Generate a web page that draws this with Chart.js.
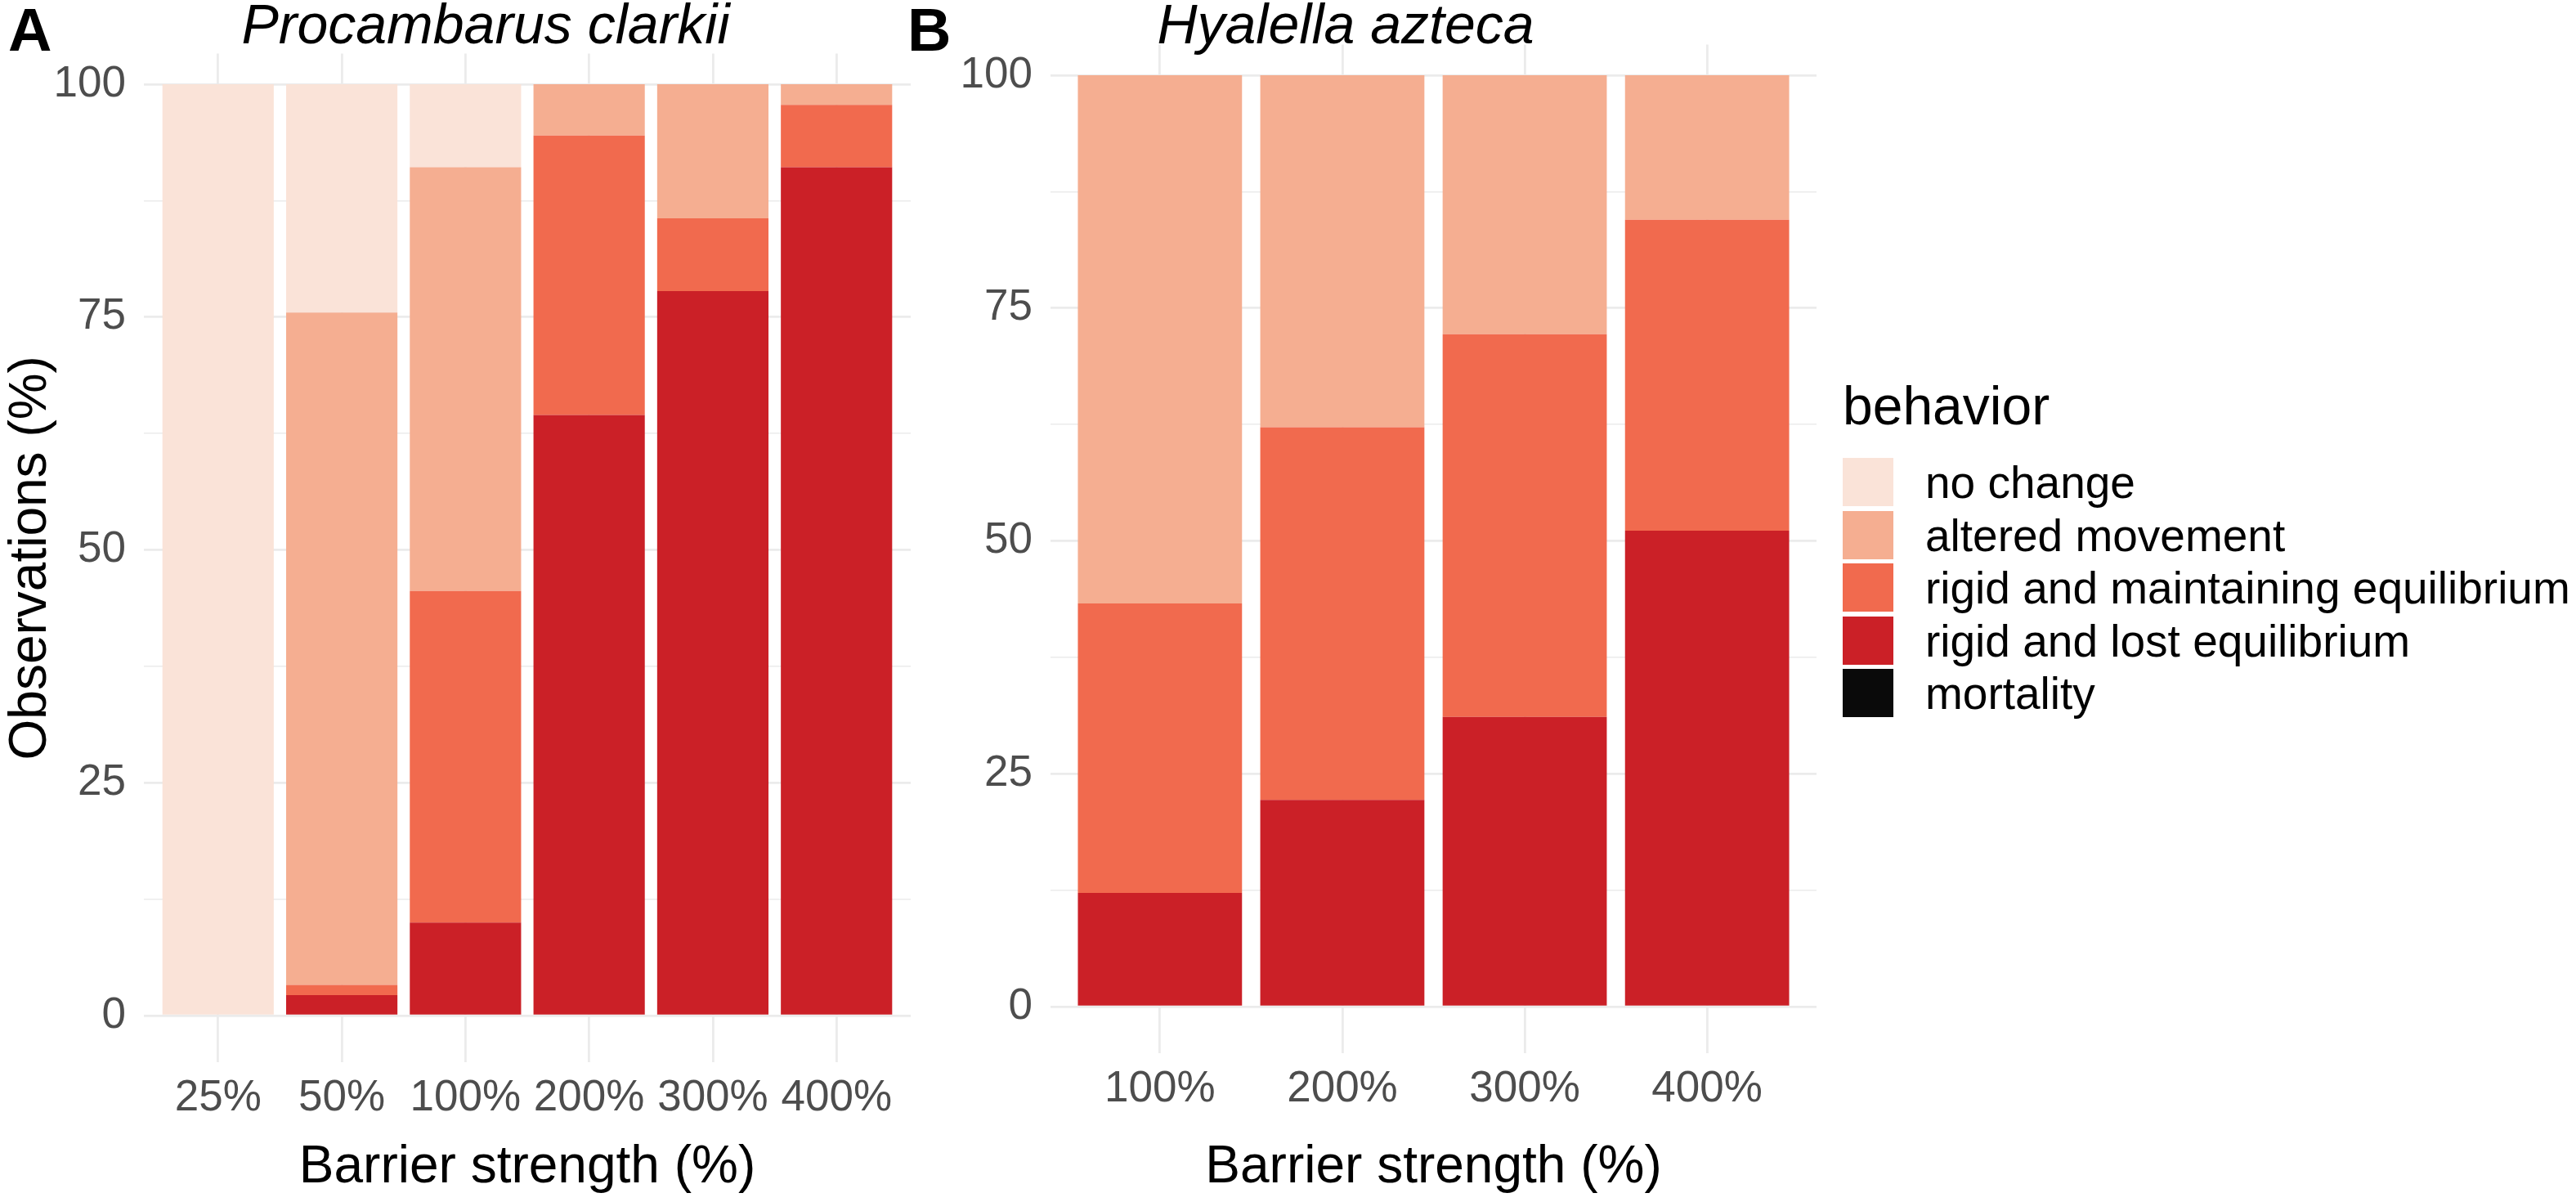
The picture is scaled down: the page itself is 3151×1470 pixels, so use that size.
<!DOCTYPE html>
<html>
<head>
<meta charset="utf-8">
<title>Behavior by barrier strength</title>
<script src="https://cdn.jsdelivr.net/npm/chart.js@4.4.1/dist/chart.umd.min.js"></script>
<style>
  body { margin: 0; background: #fff; font-family: "Liberation Sans", Arial, sans-serif; }
  #wrap { position: relative; width: 3151px; height: 1470px; overflow: hidden; background: #fff; }
  canvas { position: absolute; top: 0; }
  .tag { position: absolute; top: 0; font-weight: bold; font-size: 74px; line-height: 74px; }
  .title { position: absolute; top: -5px; width: 800px; text-align: center; font-style: italic; font-size: 68px; line-height: 68px; }
  .lg-title { position: absolute; left: 2254px; top: 463px; font-size: 66px; line-height: 66px; }
  .lg-key { position: absolute; left: 2254px; width: 62px; height: 59px; }
  .lg-text { position: absolute; left: 2355px; font-size: 55px; line-height: 55px; white-space: nowrap; }
</style>
</head>
<body>
<div id="wrap">
  <canvas id="chartA" width="1120" height="1470" style="left:0px"></canvas>
  <canvas id="chartB" width="1158" height="1470" style="left:1070px"></canvas>
  <div class="tag" style="left:10px">A</div>
  <div class="tag" style="left:1110px">B</div>
  <div class="title" style="left:194px">Procambarus clarkii</div>
  <div class="title" style="left:1246px">Hyalella azteca</div>
  <div id="legend"></div>
</div>
<script>
const behaviors = ['no change', 'altered movement', 'rigid and maintaining equilibrium', 'rigid and lost equilibrium', 'mortality']
const fills = ['#FAE3D8', '#F5AE91', '#F16A4E', '#CB2027', '#0A0A0A']

// Procambarus clarkii
const strengthA = ['25%', '50%', '100%', '200%', '300%', '400%']
const noChangeA = [100, 24.5, 8.9, 0, 0, 0]
const alteredA = [0, 72.2, 45.5, 5.5, 14.4, 2.2]
const maintainA = [0, 1.1, 35.6, 30.0, 7.8, 6.7]
const lostA = [0, 2.2, 10.0, 64.5, 77.8, 91.1]
const mortalityA = [0, 0, 0, 0, 0, 0]

// Hyalella azteca
const strengthB = ['100%', '200%', '300%', '400%']
const noChangeB = [0, 0, 0, 0]
const alteredB = [56.7, 37.8, 27.8, 15.5]
const maintainB = [31.1, 40.0, 41.1, 33.4]
const lostB = [12.2, 22.2, 31.1, 51.1]
const mortalityB = [0, 0, 0, 0]

const yTicks = [0, 12.5, 25, 37.5, 50, 62.5, 75, 87.5, 100]

const gridColor = '#EBEBEB'
const tickColor = '#4D4D4D'
Chart.defaults.font.family = '"Liberation Sans", Arial, sans-serif'

function makePanel(id, cats, series, o) {
  // first dataset sits at the bottom of the stack, so reverse the legend order
  const datasets = series.map((vals, k) => ({
    label: behaviors[k],
    data: vals.map((v, i) => ({ x: i, y: v })),
    backgroundColor: fills[k],
    borderWidth: 0,
    barPercentage: 0.9,
    categoryPercentage: 1
  })).reverse()

  return new Chart(document.getElementById(id), {
    type: 'bar',
    data: { datasets },
    options: {
      responsive: false,
      animation: false,
      devicePixelRatio: 1,
      events: [],
      layout: { padding: { top: o.top, right: 6, left: 0, bottom: 0 } },
      plugins: { legend: { display: false }, tooltip: { enabled: false } },
      scales: {
        x: {
          type: 'linear',
          stacked: true,
          offset: false,
          min: -0.6,
          max: cats.length - 0.4,
          afterBuildTicks: (ax) => { ax.ticks = cats.map((c, i) => ({ value: i })) },
          afterFit: (ax) => { ax.height = o.xHeight },
          grid: { color: gridColor, lineWidth: 2.8, drawTicks: false, offset: false },
          border: { display: false },
          ticks: {
            callback: (v) => cats[v],
            color: tickColor,
            font: { size: 53 },
            padding: 13,
            maxRotation: 0,
            autoSkip: false
          },
          title: {
            display: true,
            text: 'Barrier strength (%)',
            color: '#000',
            font: { size: 64 },
            padding: { top: 0, bottom: 3 }
          }
        },
        y: {
          stacked: true,
          min: -5,
          max: 103.3,
          afterBuildTicks: (ax) => { ax.ticks = yTicks.map((v) => ({ value: v })) },
          afterFit: (ax) => { ax.width = o.yWidth },
          grid: {
            color: gridColor,
            lineWidth: (c) => (c.tick && c.tick.value % 25 === 0 ? 2.8 : 1.4),
            drawTicks: false
          },
          border: { display: false },
          ticks: {
            callback: (v) => (v % 25 === 0 ? String(v) : ''),
            color: tickColor,
            font: { size: 53 },
            padding: 22
          },
          title: {
            display: o.yTitle,
            text: 'Observations (%)',
            color: '#000',
            font: { size: 64 },
            padding: { top: 0, bottom: 0 }
          }
        }
      }
    }
  })
}

makePanel('chartA', strengthA, [noChangeA, alteredA, maintainA, lostA, mortalityA],
  { top: 65.5, xHeight: 171, yWidth: 176, yTitle: true })
makePanel('chartB', strengthB, [noChangeB, alteredB, maintainB, lostB, mortalityB],
  { top: 54.5, xHeight: 182, yWidth: 215, yTitle: false })

// legend, built from the same names and colours
const legendEl = document.getElementById('legend')
let html = '<div class="lg-title">behavior</div>'
behaviors.forEach((b, i) => {
  const top = 560 + i * 64.5
  html += `<div class="lg-key" style="top:${top}px;background:${fills[i]}"></div>`
  html += `<div class="lg-text" style="top:${top + 3.4}px">${b}</div>`
})
legendEl.innerHTML = html
</script>
</body>
</html>
